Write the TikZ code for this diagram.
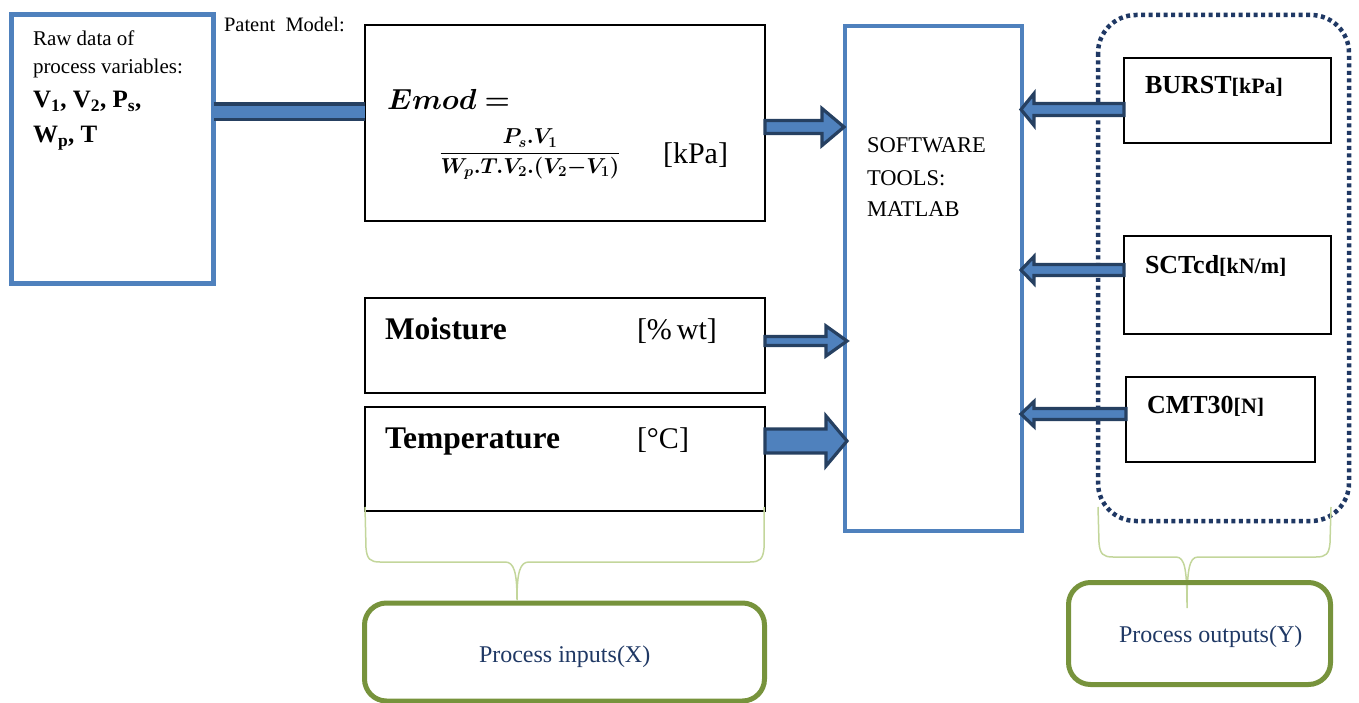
\RequirePackage{fix-cm}
\documentclass[tikz,border=0pt]{standalone}
\usepackage{amsmath}
\usepackage{fontspec}
\setmainfont{Liberation Serif}
\usetikzlibrary{calc}
\definecolor{boxblue}{HTML}{4F81BD}
\definecolor{arrdark}{HTML}{264061}
\definecolor{navy}{HTML}{1F3864}
\definecolor{olive}{HTML}{77933C}
\definecolor{lightgreen}{HTML}{C3D69B}
\newcommand\fs[1]{\fontsize{#1}{#1}\selectfont}
\newcommand\blockarr[5]{%
  \draw[blockarrow] let \p1=(#1), \p2=(#2) in
    (\x1,{\y1+#3}) -- ({\x2+(#5)},{\y1+#3}) -- ({\x2+(#5)},{\y1+#4}) -- (\x2,\y1)
    -- ({\x2+(#5)},{\y1-#4}) -- ({\x2+(#5)},{\y1-#3}) -- (\x1,{\y1-#3}) -- cycle;}
\begin{document}
\begin{tikzpicture}[x=1pt,y=-1pt,
  box/.style={draw, inner sep=0pt, outer sep=0pt, anchor=north west},
  bluebox/.style={box, draw=boxblue},
  blackbox/.style={box, draw=black, line width=1.5pt},
  txt/.style={anchor=base west, inner sep=0pt, outer sep=0pt},
  blockarrow/.style={draw=arrdark, fill=boxblue, line width=3.2pt, line join=miter},
  bar/.style={draw=arrdark, line width=3.5pt, double=boxblue, double distance=12pt},
  brace/.style={draw=lightgreen, line width=1.5pt},
  greenbox/.style={box, draw=olive, line width=5pt, rounded corners=22pt},
  navytxt/.style={txt, text=navy}]
\useasboundingbox (0,0) rectangle (1359,703);

% left raw data box
\node[bluebox, line width=5pt, minimum width=202pt, minimum height=269pt] (raw) at (11.5,14.5) {};
\node[txt] (rawt1) at (33,46) {\fs{21}Raw data of};
\node[txt] (rawt2) at (33,74) {\fs{21}process variables:};
\node[txt] (rawt3) at (33,108) {\fs{25}\bfseries V\textsubscript{1}, V\textsubscript{2}, P\textsubscript{s},};
\node[txt] (rawt4) at (33,143) {\fs{25}\bfseries W\textsubscript{p}, T};
\node[txt] (patent) at (224,32) {\fs{20.5}Patent\enspace Model:};

% Emod box
\node[blackbox, minimum width=400pt, minimum height=196pt] (emod) at (365,25) {};
\node[txt] (emodt) at (387,110) {\fs{29}$\boldsymbol{Emod} \mathrel{\boldsymbol{=}}$};
\node[anchor=base, inner sep=0pt] (frac) at (530,158.5) {\fs{21.6}$\dfrac{\boldsymbol{P_s.V_1}}{\boldsymbol{W_p.T.V_2.(V_2{-}V_1)}}$};
\node[txt] (kpa) at (663,164) {\fs{30}[kPa]};

% moisture / temperature
\node[blackbox, minimum width=400pt, minimum height=95pt] (moist) at (365,298) {};
\node[txt] (moistt) at (385,339) {\fs{31.5}\bfseries Moisture};
\node[txt] (moistu) at (637,339) {\fs{30}[\%\,wt]};
\node[blackbox, minimum width=400pt, minimum height=104pt] (temp) at (365,407) {};
\node[txt] (tempt) at (385,448) {\fs{31.5}\bfseries Temperature};
\node[txt] (tempu) at (637,448) {\fs{30}[°C]};

% software box
\node[bluebox, line width=4pt, minimum width=177pt, minimum height=505pt] (sw) at (845,26) {};
\node[txt] (sw1) at (867,153) {\fs{22.5}SOFTWARE};
\node[txt] (sw2) at (867,186) {\fs{22.5}TOOLS:};
\node[txt] (sw3) at (867,217) {\fs{22.5}MATLAB};

% outputs group
\draw[navy, line width=4.5pt, dash pattern=on 4pt off 3.5pt, rounded corners=38pt] (1098,15) rectangle (1349,521);
\node[box, line width=1.3pt, minimum width=207pt, minimum height=85pt] (burst) at (1124,58) {};
\node[txt] (burstt) at (1145,94) {\fs{26}\bfseries BURST{\fs{22}[kPa]}};
\node[box, line width=1.3pt, minimum width=207pt, minimum height=98pt] (sct) at (1124,236) {};
\node[txt] (sctt) at (1145,273) {\fs{26}\bfseries SCTcd{\fs{22}[kN/m]}};
\node[box, line width=1.3pt, minimum width=189pt, minimum height=85pt] (cmt) at (1126,377) {};
\node[txt] (cmtt) at (1147,413) {\fs{26}\bfseries CMT30{\fs{22}[N]}};

% connector raw -> emod
\coordinate (c1) at ([yshift=37pt]raw.east);
\draw[bar] (c1) -- (emod.west |- c1);

% block arrows to software box
\blockarr{[yshift=-4pt]emod.east}{[xshift=-1pt]sw.west}{6.5pt}{18.5pt}{-22pt}
\blockarr{[yshift=4.5pt]moist.east}{[xshift=2pt]sw.west}{4.5pt}{15pt}{-21pt}
\blockarr{[yshift=18pt]temp.east}{[xshift=2pt]sw.west}{12pt}{25pt}{-21pt}
\blockarr{[yshift=-9pt]burst.west}{[xshift=-1pt]sw.east}{6pt}{16pt}{13pt}
\blockarr{[yshift=15pt]sct.west}{[xshift=-1pt]sw.east}{5.5pt}{13.5pt}{13pt}
\blockarr{[yshift=5.5pt]cmt.west}{[xshift=-1pt]sw.east}{5.5pt}{12.5pt}{13pt}

% braces
\draw[brace] (365,507) -- (366,548) .. controls (367,559) and (370,562) .. (380,562)
  -- (505,562) .. controls (514,562) and (517,572) .. (517,600)
  .. controls (517,572) and (520,562) .. (529,562) -- (750,562)
  .. controls (760,562) and (763,559) .. (764,548) -- (764,507);
\draw[brace] (1098,507) -- (1099,543) .. controls (1100,554) and (1103,557) .. (1113,557)
  -- (1176,557) .. controls (1185,557) and (1187,570) .. (1187,608)
  .. controls (1187,570) and (1189,557) .. (1198,557) -- (1316,557)
  .. controls (1326,557) and (1329,554) .. (1330,543) -- (1331,507);

% process boxes
\node[greenbox, minimum width=400pt, minimum height=98pt] (inbox) at (364.5,603) {};
\node[navytxt] (intxt) at (479,662) {\fs{24}Process inputs(X)};
\node[greenbox, minimum width=262pt, minimum height=102pt] (outbox) at (1068.5,582.5) {};
\node[navytxt] (outtxt) at (1119,642) {\fs{24}Process outputs(Y)};
\end{tikzpicture}
\end{document}
